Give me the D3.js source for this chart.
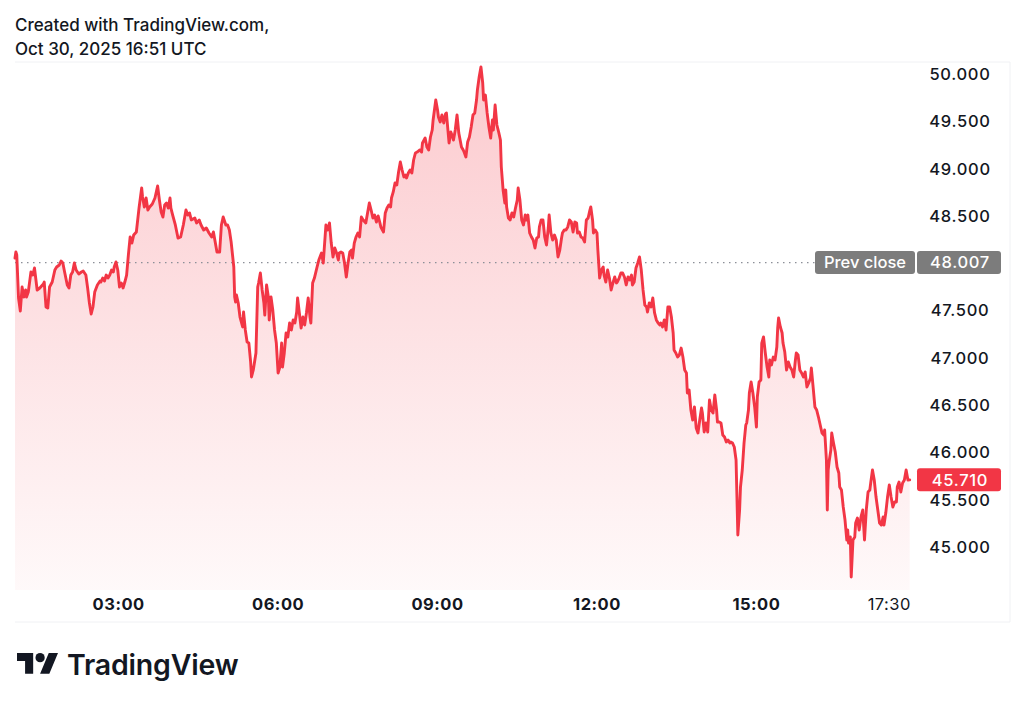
<!DOCTYPE html>
<html>
<head>
<meta charset="utf-8">
<script src="https://cdn.jsdelivr.net/npm/d3@7"></script>
<style>
  body { margin: 0; background: #fff; }
  svg text { font-family: Inter, "Noto Sans", sans-serif; }
</style>
</head>
<body>
<div id="chart"></div>
<script>
// minutes after midnight for each sample
var times = [
  63,64,65,67,69,71,73,75,76,78,
  81,83,85,88,91,95,96,98,100,102,
  105,108,110,113,115,117,119,122,124,126,
  128,130,132,135,138,140,143,145,147,149,
  151,153,156,159,160,162,164,166,168,170,
  172,174,175,177,179,181,183,185,187,189,
  191,193,195,197,200,203,206,207,209,211,
  213,215,218,221,224,226,228,230,232,234,
  236,238,239,241,244,247,250,253,256,258,
  260,262,266,268,271,273,276,279,282,285,
  287,289,291,294,296,298,301,303,305,307,
  310,311,312,313,315,317,320,321,323,325,
  327,329,330,332,335,337,338,340,342,344,
  345,347,349,350,352,354,356,358,360,362,
  364,365,367,369,371,373,375,377,379,381,
  382,384,386,388,390,392,394,396,397,399,
  401,404,406,409,411,412,414,416,418,420,
  422,424,426,428,429,431,433,435,437,439,
  441,443,444,446,448,450,452,454,456,459,
  461,463,465,467,469,471,473,475,476,479,
  481,483,485,487,488,490,492,494,496,498,
  500,502,504,505,507,509,511,513,515,517,
  520,522,523,526,528,530,532,534,535,538,
  540,541,543,545,547,549,550,553,555,557,
  558,560,562,564,567,569,570,572,574,576,
  578,580,582,584,585,587,589,591,592,594,
  596,598,600,602,603,605,607,609,611,612,
  614,616,617,618,620,622,624,626,628,630,
  631,633,635,637,639,640,642,644,646,648,
  650,652,654,655,657,659,661,663,665,666,
  668,670,672,674,676,678,680,681,683,685,
  687,689,691,693,695,697,698,700,702,704,
  706,708,710,712,713,715,716,718,720,721,
  723,725,727,728,730,732,734,736,738,740,
  742,743,745,747,749,751,753,755,757,759,
  760,762,764,766,768,770,772,774,776,777,
  779,781,783,785,787,789,791,792,794,796,
  798,800,802,804,806,807,809,811,813,815,
  817,819,821,822,824,826,828,830,832,834,
  836,838,839,841,843,845,847,849,851,853,
  855,856,858,860,862,864,866,868,870,871,
  873,875,877,878,879,881,882,884,886,888,
  889,891,892,894,896,898,900,901,903,905,
  906,908,910,912,914,915,917,919,921,923,
  924,925,927,929,930,932,934,936,938,940,
  942,944,945,947,949,951,953,955,957,959,
  961,962,964,966,968,970,972,974,976,977,
  979,980,981,982,984,985,987,989,991,993,
  994,996,998,1000,1002,1003,1004,1006,1007,1009,
  1011,1012,1014,1016,1018,1020,1022,1024,1026,1028,
  1029,1031,1033,1035,1037,1039,1041,1043,1044,1046,
  1048,1050,1052,1054,1056,1058,1059,1061,1063,1065,
  1067,1069,1071,1073
];

var prices = [
  48.055,48.118,48.087,47.632,47.495,47.748,47.643,47.717,47.643,47.695,
  47.907,47.875,47.949,47.717,47.738,47.780,47.801,47.537,47.526,47.748,
  47.801,47.928,47.960,47.981,48.023,48.002,47.907,47.770,47.738,47.875,
  47.907,48.002,47.928,47.886,47.907,47.917,47.875,47.738,47.579,47.463,
  47.537,47.695,47.770,47.812,47.801,47.843,47.812,47.875,47.843,47.875,
  47.928,47.907,47.960,48.013,47.928,47.748,47.791,47.738,47.801,47.875,
  48.087,48.277,48.213,48.298,48.330,48.583,48.795,48.700,48.594,48.689,
  48.562,48.594,48.626,48.689,48.816,48.668,48.541,48.488,48.615,48.636,
  48.583,48.689,48.583,48.509,48.404,48.266,48.277,48.404,48.562,48.509,
  48.531,48.457,48.478,48.425,48.457,48.404,48.351,48.372,48.319,48.277,
  48.330,48.224,48.118,48.118,48.404,48.488,48.404,48.404,48.351,48.224,
  47.960,47.643,47.590,47.664,47.579,47.431,47.326,47.484,47.294,47.167,
  47.156,46.956,46.797,46.871,47.051,47.748,47.791,47.896,47.717,47.579,
  47.452,47.770,47.643,47.400,47.643,47.505,47.294,47.156,46.839,46.903,
  47.156,46.903,47.051,47.262,47.220,47.368,47.294,47.400,47.368,47.484,
  47.632,47.474,47.315,47.431,47.347,47.474,47.632,47.431,47.368,47.791,
  47.843,47.960,48.034,48.108,48.002,48.139,48.404,48.351,48.425,48.213,
  48.066,48.161,48.108,48.034,48.108,48.118,48.108,48.002,47.854,48.002,
  48.118,48.139,48.055,48.213,48.277,48.319,48.277,48.488,48.457,48.425,
  48.531,48.636,48.562,48.478,48.509,48.435,48.499,48.425,48.383,48.330,
  48.531,48.583,48.615,48.594,48.689,48.753,48.848,48.827,48.964,49.070,
  48.985,48.911,48.932,48.901,48.953,48.985,48.953,49.091,49.165,49.175,
  49.197,49.175,49.271,49.323,49.228,49.197,49.334,49.408,49.514,49.725,
  49.619,49.545,49.493,49.567,49.482,49.577,49.588,49.271,49.387,49.334,
  49.302,49.408,49.567,49.376,49.228,49.197,49.175,49.123,49.281,49.334,
  49.440,49.567,49.588,49.725,49.831,49.968,50.074,49.905,49.725,49.778,
  49.588,49.440,49.323,49.514,49.408,49.672,49.461,49.387,49.302,49.017,
  48.774,48.636,48.774,48.594,48.478,48.457,48.531,48.488,48.583,48.668,
  48.795,48.668,48.457,48.404,48.509,48.457,48.509,48.319,48.277,48.245,
  48.161,48.266,48.277,48.383,48.457,48.457,48.277,48.192,48.372,48.509,
  48.319,48.245,48.298,48.245,48.066,48.139,48.266,48.319,48.351,48.351,
  48.383,48.457,48.435,48.330,48.435,48.425,48.319,48.330,48.277,48.266,
  48.224,48.457,48.478,48.562,48.594,48.457,48.319,48.351,48.319,48.139,
  47.843,47.928,47.960,47.875,47.801,47.928,47.843,47.717,47.791,47.854,
  47.791,47.801,47.843,47.896,47.896,47.854,47.770,47.854,47.822,47.875,
  47.770,47.801,47.949,48.002,48.066,47.928,47.717,47.558,47.537,47.484,
  47.579,47.537,47.632,47.474,47.400,47.368,47.347,47.368,47.326,47.400,
  47.294,47.537,47.537,47.431,47.262,47.082,47.051,47.008,47.030,47.103,
  47.008,46.871,46.839,46.628,46.660,46.448,46.342,46.480,46.258,46.205,
  46.342,46.469,46.416,46.216,46.311,46.216,46.554,46.448,46.416,46.607,
  46.448,46.321,46.321,46.311,46.184,46.163,46.110,46.131,46.099,46.110,
  46.099,46.057,45.920,45.528,45.127,45.391,45.634,45.814,46.099,46.290,
  46.311,46.448,46.628,46.744,46.628,46.480,46.268,46.586,46.744,46.765,
  47.156,47.220,47.051,46.903,46.797,46.977,46.924,47.008,46.977,47.114,
  47.315,47.421,47.326,47.262,47.156,47.061,46.871,46.956,46.903,46.871,
  46.797,46.977,47.051,47.030,46.871,46.839,46.797,46.850,46.691,46.734,
  46.786,46.892,46.691,46.480,46.448,46.374,46.290,46.205,46.184,46.237,
  45.920,45.391,45.814,45.898,46.025,46.205,46.099,46.004,45.846,45.782,
  45.634,45.602,45.423,45.285,45.074,45.180,45.042,45.106,44.683,45.074,
  45.106,45.254,45.306,45.180,45.317,45.391,45.074,45.391,45.581,45.602,
  45.676,45.814,45.708,45.528,45.391,45.254,45.232,45.317,45.232,45.359,
  45.528,45.655,45.528,45.423,45.476,45.476,45.634,45.687,45.581,45.676,
  45.708,45.814,45.708,45.710
];

var prevClose = 48.007;
var lastPrice = 45.710;
var yTicks = [45, 45.5, 46, 46.5, 47, 47.5, 48, 48.5, 49, 49.5, 50];
var xTicks = ["03:00", "06:00", "09:00", "12:00", "15:00", "17:30"];
var header = ["Created with TradingView.com,", "Oct 30, 2025 16:51 UTC"];

if (times.length !== prices.length) console.error("length mismatch", times.length, prices.length);

var width = 1024, height = 707;
var plot = {left: 15, right: 915, top: 62, bottom: 590};
var red = "#f23645", ink = "#131722";

var data = times.map(function(t, i) { return {t: t, p: prices[i]}; });

var toMinutes = function(s) {
  var parts = s.split(":");
  return +parts[0] * 60 + +parts[1];
};

var x = d3.scaleLinear().domain([times[0], 1079]).range([plot.left, plot.right]);
var y = d3.scaleLinear().domain([45, 50]).range([547, 74]);

var svg = d3.select("#chart").append("svg")
    .attr("width", width)
    .attr("height", height)
    .style("display", "block");

svg.append("rect").attr("width", width).attr("height", height).attr("fill", "#fff");

// faint widget frame
svg.append("path")
    .attr("d", "M" + plot.left + "," + plot.top + "H1010V622H" + plot.left)
    .attr("fill", "none")
    .attr("stroke", "#f0f1f4")
    .attr("stroke-width", 1);

// header
svg.selectAll("text.head")
  .data(header)
  .enter().append("text")
    .attr("class", "head")
    .attr("x", 15)
    .attr("y", function(d, i) { return 31 + i * 24; })
    .attr("fill", ink)
    .style("font-size", "17px")
    .style("font-weight", 500)
    .text(function(d) { return d; });

var defs = svg.append("defs");
var grad = defs.append("linearGradient")
    .attr("id", "fill")
    .attr("gradientUnits", "userSpaceOnUse")
    .attr("x1", 0).attr("x2", 0)
    .attr("y1", y(50)).attr("y2", plot.bottom);
grad.append("stop").attr("offset", 0).attr("stop-color", red).attr("stop-opacity", 0.26);
grad.append("stop").attr("offset", 1).attr("stop-color", red).attr("stop-opacity", 0.03);

var area = d3.area()
    .x(function(d) { return x(d.t); })
    .y0(plot.bottom)
    .y1(function(d) { return y(d.p); });

var line = d3.line()
    .x(function(d) { return x(d.t); })
    .y(function(d) { return y(d.p); });

svg.append("path")
    .datum(data)
    .attr("d", area)
    .attr("fill", "url(#fill)");

// prev close dotted line
svg.append("line")
    .attr("x1", plot.left).attr("x2", 815)
    .attr("y1", y(prevClose)).attr("y2", y(prevClose))
    .attr("stroke", "#8c8f98")
    .attr("stroke-width", 1.3)
    .attr("stroke-dasharray", "1.5,4.5");

svg.append("path")
    .datum(data)
    .attr("d", line)
    .attr("fill", "none")
    .attr("stroke", red)
    .attr("stroke-width", 2.9)
    .attr("stroke-linejoin", "round")
    .attr("stroke-linecap", "round");

// right price scale
var fmt = d3.format(".3f");
var labelCenter = 960;
svg.append("g").selectAll("text")
  .data(yTicks.filter(function(v) {
    return Math.abs(y(v) - y(prevClose)) > 14 && Math.abs(y(v) - y(lastPrice)) > 14;
  }))
  .enter().append("text")
    .attr("x", labelCenter)
    .attr("y", function(d) { return y(d); })
    .attr("dy", "0.36em")
    .attr("text-anchor", "middle")
    .attr("fill", ink)
    .style("font-size", "16.5px")
    .style("font-weight", 500)
    .style("letter-spacing", "0.7px")
    .text(fmt);

// time scale
svg.append("g").selectAll("text")
  .data(xTicks)
  .enter().append("text")
    .attr("x", function(d) { return x(toMinutes(d)); })
    .attr("y", 610)
    .attr("text-anchor", "middle")
    .attr("fill", ink)
    .style("font-size", "16.5px")
    .style("font-weight", function(d) { return d.slice(3) === "00" ? 700 : 400; })
    .style("letter-spacing", "0.5px")
    .text(function(d) { return d; });

// prev close label
var pcY = y(prevClose);
svg.append("rect")
    .attr("x", 815).attr("y", pcY - 11.5).attr("width", 100).attr("height", 23)
    .attr("rx", 3).attr("fill", "#7c7c7c");
svg.append("rect")
    .attr("x", 917).attr("y", pcY - 11.5).attr("width", 84).attr("height", 23)
    .attr("rx", 3).attr("fill", "#7c7c7c");
svg.append("text")
    .attr("x", 865).attr("y", pcY).attr("dy", "0.36em")
    .attr("text-anchor", "middle").attr("fill", "#fff")
    .style("font-size", "16.5px").style("font-weight", 500)
    .text("Prev close");
svg.append("text")
    .attr("x", labelCenter).attr("y", pcY).attr("dy", "0.36em")
    .attr("text-anchor", "middle").attr("fill", "#fff")
    .style("font-size", "16.5px").style("font-weight", 500)
    .style("letter-spacing", "0.7px")
    .text(fmt(prevClose));

// last price label
var lpY = y(lastPrice);
svg.append("rect")
    .attr("x", 917).attr("y", lpY - 11.5).attr("width", 84).attr("height", 23)
    .attr("rx", 3).attr("fill", red);
svg.append("text")
    .attr("x", labelCenter).attr("y", lpY).attr("dy", "0.36em")
    .attr("text-anchor", "middle").attr("fill", "#fff")
    .style("font-size", "16.5px").style("font-weight", 500)
    .style("letter-spacing", "0.7px")
    .text(fmt(lastPrice));

// TradingView logo
var logo = svg.append("g").attr("transform", "translate(17,648.4) scale(1.155)").attr("fill", ink);
logo.append("path").attr("d", "M14 22H7V11H0V4h14v18zM28 22h-8l7.5-18h8L28 22z");
logo.append("circle").attr("cx", 20).attr("cy", 8).attr("r", 4);
svg.append("text")
    .attr("x", 67).attr("y", 675)
    .attr("fill", ink)
    .style("font-size", "28.5px")
    .style("font-weight", 600)
    .style("letter-spacing", "-0.2px")
    .text("TradingView");
</script>
</body>
</html>
